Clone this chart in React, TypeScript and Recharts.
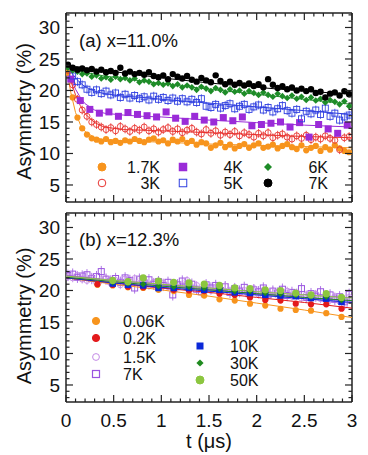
import React from 'react';
import { ComposedChart, Scatter, XAxis, YAxis, ErrorBar, Customized } from 'recharts';

// ---------- shared ticks ----------
const xTicks = [0, 0.1, 0.2, 0.3, 0.4, 0.5, 0.6, 0.7, 0.8, 0.9, 1, 1.1, 1.2, 1.3, 1.4, 1.5, 1.6, 1.7, 1.8, 1.9, 2, 2.1, 2.2, 2.3, 2.4, 2.5, 2.6, 2.7, 2.8, 2.9, 3];
const xMajor = [0, 0.5, 1, 1.5, 2, 2.5, 3];
const xLabels = ['0', '0.5', '1', '1.5', '2', '2.5', '3'];
const yTicks = [3, 4, 5, 6, 7, 8, 9, 10, 11, 12, 13, 14, 15, 16, 17, 18, 19, 20, 21, 22, 23, 24, 25, 26, 27, 28, 29, 30, 31, 32];
const yMajor = [5, 10, 15, 20, 25, 30];
const yLabels = ['5', '10', '15', '20', '25', '30'];

// ---------- panel (a) x=11.0% ----------
const tA = [0.02, 0.07, 0.12, 0.17, 0.22, 0.27, 0.32, 0.37, 0.42, 0.47, 0.52, 0.57, 0.62, 0.67, 0.72, 0.77, 0.82, 0.87, 0.92, 0.97, 1.02, 1.07, 1.12, 1.17, 1.22, 1.27, 1.32, 1.37, 1.42, 1.47, 1.52, 1.57, 1.62, 1.67, 1.72, 1.77, 1.82, 1.87, 1.92, 1.97, 2.02, 2.07, 2.12, 2.17, 2.22, 2.27, 2.32, 2.37, 2.42, 2.47, 2.52, 2.57, 2.62, 2.67, 2.72, 2.77, 2.82, 2.87, 2.92, 2.97];
const a1_7K = [22.8, 18.9, 15.7, 14.0, 13.0, 12.4, 12.2, 11.9, 12.3, 11.8, 12.0, 11.7, 12.1, 11.9, 12.3, 12.0, 11.8, 12.2, 12.4, 11.9, 12.1, 11.6, 12.2, 11.9, 12.3, 11.7, 12.0, 11.4, 11.8, 11.6, 10.9, 11.3, 11.7, 11.0, 11.4, 10.8, 11.2, 11.5, 10.9, 11.3, 11.6, 10.9, 11.1, 11.4, 10.8, 11.2, 11.5, 11.0, 10.7, 11.3, 10.5, 10.9, 11.2, 10.4, 11.0, 10.6, 11.3, 10.8, 10.4, 10.2];
const a3K = [23.2, 20.9, 18.6, 16.9, 15.9, 15.0, 14.6, 14.2, 13.8, 14.1, 13.6, 14.3, 13.9, 13.5, 14.0, 13.7, 14.2, 13.6, 13.9, 13.4, 13.8, 14.1, 13.5, 13.9, 13.3, 13.7, 14.0, 13.4, 13.1, 13.8, 13.2, 13.6, 12.9, 13.4, 13.0, 13.5, 12.8, 13.3, 13.0, 12.6, 13.2, 12.8, 13.3, 12.5, 12.9, 13.1, 12.6, 12.3, 12.8, 12.4, 12.9, 12.2, 12.6, 12.3, 12.8, 12.4, 12.1, 10.6, 12.5, 12.7];
const a5K = [23.5, 22.3, 21.4, 20.9, 20.2, 19.7, 20.1, 19.5, 19.9, 19.3, 19.6, 18.9, 19.4, 18.8, 19.2, 18.7, 19.0, 18.5, 19.1, 18.6, 18.9, 18.4, 18.8, 18.3, 18.7, 18.2, 18.6, 18.1, 18.7, 17.5, 17.3, 17.8, 17.2, 17.6, 17.9, 17.1, 17.5, 17.8, 17.0, 17.4, 17.7, 16.9, 17.3, 16.6, 17.1, 17.6, 16.8, 16.4, 17.0, 15.5, 16.7, 16.3, 16.9, 16.2, 17.2, 15.9, 16.4, 15.3, 15.8, 16.1];
const a6K = [23.6, 23.2, 23.0, 22.6, 22.7, 22.2, 22.4, 21.9, 22.1, 21.7, 22.2, 21.8, 22.0, 21.6, 21.9, 21.3, 21.6, 21.4, 21.0, 21.2, 20.9, 21.1, 20.7, 21.0, 20.5, 20.8, 20.5, 20.1, 20.6, 20.3, 19.9, 20.4, 20.1, 19.7, 20.2, 19.8, 20.0, 19.5, 19.9, 19.6, 19.3, 19.7, 19.3, 19.0, 19.5, 19.1, 18.8, 19.2, 18.7, 19.0, 18.5, 18.9, 18.4, 18.7, 18.1, 18.5, 18.2, 17.8, 18.3, 17.5];
const a7K = [24.1, 23.6, 23.3, 23.5, 23.2, 23.4, 23.0, 23.3, 22.9, 23.1, 22.8, 23.6, 22.7, 23.0, 22.6, 22.8, 22.5, 22.9, 22.3, 22.1, 22.4, 21.8, 22.6, 22.2, 21.9, 22.3, 21.7, 21.4, 22.0, 21.6, 21.3, 22.4, 21.5, 21.0, 21.4, 20.9, 21.2, 20.8, 21.1, 20.7, 21.0, 20.5, 21.8, 20.9, 20.4, 20.7, 20.2, 20.5, 20.0, 20.3, 19.9, 20.2, 19.6, 19.8, 18.9, 19.5, 19.7, 19.2, 19.9, 19.4];
const tA4K = [0.05, 0.15, 0.25, 0.35, 0.45, 0.55, 0.65, 0.75, 0.85, 0.95, 1.05, 1.15, 1.25, 1.35, 1.45, 1.55, 1.65, 1.75, 1.85, 1.95, 2.05, 2.15, 2.25, 2.35, 2.45, 2.55, 2.65, 2.75, 2.85, 2.95];
const a4K = [21.8, 18.4, 17.0, 16.4, 16.6, 15.9, 16.5, 16.2, 16.0, 15.8, 16.6, 15.6, 15.1, 15.9, 15.3, 15.0, 15.7, 15.2, 15.8, 14.4, 14.6, 14.8, 15.0, 14.2, 14.9, 12.6, 14.6, 13.9, 13.2, 14.5];
const errA = 0.7;

const fitTA = [0, 0.05, 0.1, 0.15, 0.2, 0.3, 0.4, 0.6, 0.8, 1.0, 1.5, 2.0, 2.5, 3.0];
const fitA1_7K = [24, 19.7, 16.5, 14.6, 13.5, 12.5, 12.2, 12.0, 11.9, 11.8, 11.5, 11.3, 11.1, 10.9];
const fitA3K = [24, 21.5, 19.3, 17.6, 16.3, 14.9, 14.2, 13.8, 13.7, 13.6, 13.3, 13.0, 12.7, 12.5];
const fitA4K = [24, 22.0, 20.2, 18.9, 17.9, 16.9, 16.4, 16.1, 15.9, 15.8, 15.3, 14.9, 14.5, 14.2];
const fitA5K = [24, 23.0, 22.0, 21.2, 20.6, 19.9, 19.5, 19.1, 18.9, 18.6, 18.0, 17.4, 16.8, 16.2];
const fitA6K = [24, 23.7, 23.4, 23.1, 22.9, 22.6, 22.3, 21.9, 21.5, 21.1, 20.2, 19.4, 18.6, 17.8];
const fitA7K = [24, 23.9, 23.8, 23.7, 23.6, 23.4, 23.2, 22.8, 22.4, 22.0, 21.2, 20.5, 19.9, 19.4];

// ---------- panel (b) x=12.3% ----------
const tB = tA;
const b1_5K = [22.2, 22.0, 22.4, 21.8, 21.6, 22.0, 21.3, 21.7, 21.9, 21.2, 21.6, 20.9, 21.8, 21.4, 21.9, 21.1, 21.5, 20.8, 21.3, 20.9, 21.2, 20.6, 21.0, 20.5, 20.9, 21.6, 20.4, 20.8, 20.2, 20.6, 20.0, 20.5, 20.1, 20.7, 19.8, 20.2, 19.6, 20.0, 19.7, 20.3, 19.4, 20.0, 19.5, 19.9, 19.2, 19.6, 19.9, 19.1, 19.5, 18.8, 19.3, 18.9, 19.4, 18.7, 19.1, 18.5, 19.0, 18.3, 17.6, 18.9];
const b7K = [22.4, 22.6, 22.1, 22.3, 22.5, 21.9, 22.2, 23.0, 21.8, 21.5, 21.9, 21.3, 22.0, 21.6, 20.4, 21.8, 21.2, 21.7, 21.0, 21.4, 20.8, 21.3, 19.3, 20.9, 21.5, 20.6, 21.0, 20.2, 19.8, 20.9, 20.4, 20.8, 20.0, 20.6, 19.7, 20.3, 19.9, 20.5, 19.5, 20.1, 19.8, 20.4, 19.3, 19.9, 19.6, 20.2, 19.2, 19.7, 19.4, 20.3, 18.9, 19.5, 19.1, 19.8, 18.8, 19.3, 18.6, 19.0, 18.2, 19.4];
const errB1_5K = 0.7;
const errB7K = 0.9;
const tS = [0.33, 0.49, 0.65, 0.81, 0.97, 1.13, 1.29, 1.45, 1.61, 1.77, 1.93, 2.09, 2.25, 2.41, 2.57, 2.73, 2.89];
const b0_06K = [20.9, 20.8, 20.5, 20.4, 20.1, 19.9, 19.3, 19.2, 18.6, 18.4, 17.9, 17.6, 17.1, 16.9, 16.8, 16.4, 15.8];
const b0_2K = [21.0, 20.9, 20.6, 20.5, 20.4, 20.1, 20.0, 19.9, 19.5, 19.3, 18.9, 18.5, 18.4, 17.9, 17.8, 17.8, 17.1];
const tS2 = [0.49, 0.65, 0.81, 0.97, 1.13, 1.29, 1.45, 1.61, 1.77, 1.93, 2.09, 2.25, 2.41, 2.57, 2.73, 2.89];
const b10K = [21.1, 20.9, 20.8, 20.4, 20.4, 20.4, 20.1, 20.1, 19.7, 19.6, 19.3, 19.2, 19.1, 18.8, 18.7, 18.2];
const b30K = [21.3, 21.1, 21.0, 20.7, 20.6, 20.6, 20.4, 20.3, 19.9, 19.9, 19.6, 19.5, 19.3, 19.1, 19.0, 18.5];
const b50K = [21.6, 21.4, 22.0, 21.5, 21.3, 21.2, 21.0, 20.8, 20.4, 20.3, 20.1, 20.0, 19.6, 19.3, 19.5, 18.9];

const fitTB = [0, 0.5, 1, 1.5, 2, 2.5, 3];
const fitB0_06K = [22.0, 21.0, 20.1, 19.1, 18.0, 16.9, 15.7];
const fitB0_2K = [22.0, 21.2, 20.4, 19.7, 18.9, 18.1, 17.2];
const fitB1_5K = [22.2, 21.4, 20.7, 20.0, 19.3, 18.7, 18.0];
const fitB7K = [22.4, 21.6, 20.9, 20.2, 19.5, 18.9, 18.3];
const fitB10K = [22.0, 21.2, 20.5, 19.9, 19.3, 18.7, 18.1];
const fitB30K = [22.1, 21.4, 20.7, 20.1, 19.5, 18.9, 18.4];
const fitB50K = [22.3, 21.6, 21.0, 20.4, 19.8, 19.3, 18.8];

// ---------- style ----------
const FONT = '"Liberation Sans", Arial, Helvetica, sans-serif';
const C = {
  orange: '#F7941D',
  red: '#E8322F',
  purple: '#9A2BD8',
  blue: '#2F3FE0',
  green: '#1E8C28',
  black: '#000000',
  bRed: '#E31A1C',
  bLilac: '#C48BE6',
  bPurple: '#9B55E0',
  bBlue: '#0A28D8',
  bGreen: '#1F8A1F',
  bLime: '#8CC63F',
};
const FRAME = '#222';

const zip = (t: number[], v: number[], err?: number) => t.map((x, i) => ({ x, y: v[i], err }));

// ---------- marker shapes ----------
const dot = (r: number, fill: string, stroke: string, sw = 1) => (p: any) =>
  <circle cx={p.cx} cy={p.cy} r={r} fill={fill} stroke={stroke} strokeWidth={sw} />;
const sq = (s: number, fill: string, stroke: string, sw = 1) => (p: any) =>
  <rect x={p.cx - s / 2} y={p.cy - s / 2} width={s} height={s} fill={fill} stroke={stroke} strokeWidth={sw} />;
const dia = (s: number, fill: string) => (p: any) =>
  <polygon points={`${p.cx},${p.cy - s} ${p.cx + s},${p.cy} ${p.cx},${p.cy + s} ${p.cx - s},${p.cy}`} fill={fill} />;
const none = () => <g />;

// ---------- ticks ----------
const near = (v: number, arr: number[]) => arr.findIndex((m) => Math.abs(m - v) < 1e-6);

const makeTick = (side: 'left' | 'right' | 'top' | 'bottom', showLabel: boolean) => (p: any) => {
  const { x, y, payload } = p;
  const v = payload.value;
  const isX = side === 'top' || side === 'bottom';
  const idx = near(v, isX ? xMajor : yMajor);
  const major = idx >= 0;
  const len = major ? 7 : 3.5;
  let x2 = x, y2 = y;
  if (side === 'left') x2 = x + len;
  if (side === 'right') x2 = x - len;
  if (side === 'top') y2 = y + len;
  if (side === 'bottom') y2 = y - len;
  return (
    <g>
      <line x1={x} y1={y} x2={x2} y2={y2} stroke={FRAME} strokeWidth={1.2} />
      {showLabel && major && side === 'left' && (
        <text x={x - 6} y={y + 6.8} textAnchor="end" fontSize={19} fontFamily={FONT} fill="#111">{yLabels[idx]}</text>
      )}
      {showLabel && major && side === 'bottom' && (
        <text x={x} y={y + 25} textAnchor="middle" fontSize={19} fontFamily={FONT} fill="#111">{xLabels[idx]}</text>
      )}
    </g>
  );
};

const axisLine = { stroke: FRAME, strokeWidth: 1.5 };

function Axes({ topH, bottomH, xLabels: showX }: { topH: number; bottomH: number; xLabels: boolean }) {
  return null;
}

const renderAxes = (topH: number, bottomH: number, showX: boolean) => [
  <XAxis key="xb" xAxisId={0} dataKey="x" type="number" domain={[0, 3]} allowDataOverflow ticks={xTicks} interval={0}
    orientation="bottom" height={bottomH} tickSize={0} tickMargin={0} tickLine={false} axisLine={axisLine}
    tick={makeTick('bottom', showX)} />,
  <XAxis key="xt" xAxisId="top" dataKey="x" type="number" domain={[0, 3]} allowDataOverflow ticks={xTicks} interval={0}
    orientation="top" height={topH} tickSize={0} tickMargin={0} tickLine={false} axisLine={axisLine}
    tick={makeTick('top', false)} />,
  <YAxis key="yl" yAxisId={0} dataKey="y" type="number" domain={[2.3, 32.3]} allowDataOverflow ticks={yTicks} interval={0}
    orientation="left" width={66} tickSize={0} tickMargin={0} tickLine={false} axisLine={axisLine}
    tick={makeTick('left', true)} />,
  <YAxis key="yr" yAxisId="right" dataKey="y" type="number" domain={[2.3, 32.3]} allowDataOverflow ticks={yTicks} interval={0}
    orientation="right" width={16} tickSize={0} tickMargin={0} tickLine={false} axisLine={axisLine}
    tick={makeTick('right', false)} />,
];

const fitScatter = (key: string, t: number[], v: number[], color: string) => (
  <Scatter key={key} data={zip(t, v)} line={{ stroke: color, strokeWidth: 1 }} lineType="joint" shape={none}
    isAnimationActive={false} legendType="none" />
);

// ---------- annotations ----------
const txt = (x: number, y: number, s: string, size: number, anchor: 'start' | 'middle' | 'end' = 'start') => (
  <text x={x} y={y} fontSize={size} fontFamily={FONT} fill="#111" textAnchor={anchor}>{s}</text>
);
const yTitle = (cx: number, cy: number) => (
  <text transform={`translate(${cx},${cy}) rotate(-90)`} textAnchor="middle" dominantBaseline="central"
    fontSize={20} fontFamily={FONT} fill="#111">Asymmetry (%)</text>
);

const AnnotA = () => (
  <g>
    {txt(79, 46.5, '(a) x=11.0%', 18.5)}
    {yTitle(24, 111.5)}
    {dot(4, C.orange, C.orange)({ cx: 102, cy: 167 })}
    {txt(160, 172.5, '1.7K', 16, 'end')}
    {dot(3.8, 'none', C.red, 1)({ cx: 102, cy: 183 })}
    {txt(160, 188.5, '3K', 16, 'end')}
    {sq(8.5, C.purple, C.purple, 0)({ cx: 183, cy: 167 })}
    {txt(243, 172.5, '4K', 16, 'end')}
    {sq(7.5, 'none', C.blue, 1)({ cx: 183, cy: 183 })}
    {txt(243, 188.5, '5K', 16, 'end')}
    {dia(4, C.green)({ cx: 268, cy: 167 })}
    {txt(328, 172.5, '6K', 16, 'end')}
    {dot(4, C.black, C.black)({ cx: 268, cy: 183 })}
    {txt(328, 188.5, '7K', 16, 'end')}
  </g>
);

const AnnotB = () => (
  <g>
    {txt(79, 41, '(b) x=12.3%', 18.5)}
    {yTitle(24, 111)}
    {txt(209, 242.5, 't (\u03bcs)', 20, 'middle')}
    {dot(3.6, C.orange, C.orange)({ cx: 96, cy: 116 })}
    {txt(123, 121.5, '0.06K', 16)}
    {dot(3.6, C.bRed, C.bRed)({ cx: 96, cy: 133 })}
    {txt(123, 138.5, '0.2K', 16)}
    {dot(3.4, 'none', C.bLilac, 1)({ cx: 96, cy: 152 })}
    {txt(123, 157.5, '1.5K', 16)}
    {sq(7, 'none', C.bPurple, 1.2)({ cx: 96, cy: 169 })}
    {txt(123, 174.5, '7K', 16)}
    {sq(7, C.bBlue, C.bBlue, 0)({ cx: 200, cy: 141 })}
    {txt(230, 146.5, '10K', 16)}
    {dia(3.6, C.bGreen)({ cx: 200, cy: 158 })}
    {txt(230, 163.5, '30K', 16)}
    {dot(4, C.bLime, C.bLime)({ cx: 200, cy: 175 })}
    {txt(230, 180.5, '50K', 16)}
  </g>
);

function PanelA() {
  return (
    <ComposedChart width={368} height={210} margin={{ top: 0, right: 0, bottom: 0, left: 0 }}>
      {renderAxes(13, 8, false)}
      {fitScatter('f1', fitTA, fitA1_7K, C.orange)}
      {fitScatter('f3', fitTA, fitA3K, C.red)}
      {fitScatter('f4', fitTA, fitA4K, C.purple)}
      {fitScatter('f5', fitTA, fitA5K, C.blue)}
      {fitScatter('f6', fitTA, fitA6K, C.green)}
      {fitScatter('f7', fitTA, fitA7K, C.black)}
      <Scatter data={zip(tA, a1_7K)} shape={dot(3.1, C.orange, C.orange, 0)} isAnimationActive={false} />
      <Scatter data={zip(tA, a3K, errA)} shape={dot(3, 'none', C.red, 0.9)} isAnimationActive={false}>
        <ErrorBar dataKey="err" direction="y" width={0} stroke={C.red} strokeWidth={0.8} />
      </Scatter>
      <Scatter data={zip(tA4K, a4K)} shape={sq(7, C.purple, C.purple, 0)} isAnimationActive={false} />
      <Scatter data={zip(tA, a5K, errA)} shape={sq(6, 'none', C.blue, 0.9)} isAnimationActive={false}>
        <ErrorBar dataKey="err" direction="y" width={0} stroke={C.blue} strokeWidth={0.8} />
      </Scatter>
      <Scatter data={zip(tA, a6K)} shape={dia(3.3, C.green)} isAnimationActive={false} />
      <Scatter data={zip(tA, a7K)} shape={dot(3.2, C.black, C.black, 0)} isAnimationActive={false} />
      <Customized component={AnnotA} />
    </ComposedChart>
  );
}

function PanelB() {
  return (
    <ComposedChart width={368} height={250} margin={{ top: 0, right: 0, bottom: 0, left: 0 }}>
      {renderAxes(8, 53, true)}
      <Scatter data={zip(tB, b7K, errB7K)} shape={sq(6, 'none', C.bPurple, 1)} isAnimationActive={false}>
        <ErrorBar dataKey="err" direction="y" width={0} stroke={C.bPurple} strokeWidth={0.8} />
      </Scatter>
      <Scatter data={zip(tB, b1_5K, errB1_5K)} shape={dot(3, 'none', C.bLilac, 0.9)} isAnimationActive={false}>
        <ErrorBar dataKey="err" direction="y" width={0} stroke={C.bLilac} strokeWidth={0.8} />
      </Scatter>
      {fitScatter('g1', fitTB, fitB0_06K, C.orange)}
      {fitScatter('g2', fitTB, fitB0_2K, C.bRed)}
      {fitScatter('g3', fitTB, fitB1_5K, C.bLilac)}
      {fitScatter('g4', fitTB, fitB7K, C.bPurple)}
      {fitScatter('g5', fitTB, fitB10K, C.bBlue)}
      {fitScatter('g6', fitTB, fitB30K, C.bGreen)}
      {fitScatter('g7', fitTB, fitB50K, C.bLime)}
      <Scatter data={zip(tS, b0_06K)} shape={dot(3.1, C.orange, C.orange, 0)} isAnimationActive={false} />
      <Scatter data={zip(tS, b0_2K)} shape={dot(3.1, C.bRed, C.bRed, 0)} isAnimationActive={false} />
      <Scatter data={zip(tS2, b10K)} shape={sq(6.5, C.bBlue, C.bBlue, 0)} isAnimationActive={false} />
      <Scatter data={zip(tS2, b30K)} shape={dia(3.3, C.bGreen)} isAnimationActive={false} />
      <Scatter data={zip(tS2, b50K)} shape={dot(3.6, C.bLime, C.bLime, 0)} isAnimationActive={false} />
      <Customized component={AnnotB} />
    </ComposedChart>
  );
}

export default function App() {
  return (
    <div style={{ position: 'absolute', left: 0, top: 0, width: 368, height: 455, background: '#fff' }}>
      <div style={{ position: 'absolute', left: 0, top: 0 }}>
        <PanelA />
      </div>
      <div style={{ position: 'absolute', left: 0, top: 205 }}>
        <PanelB />
      </div>
    </div>
  );
}
